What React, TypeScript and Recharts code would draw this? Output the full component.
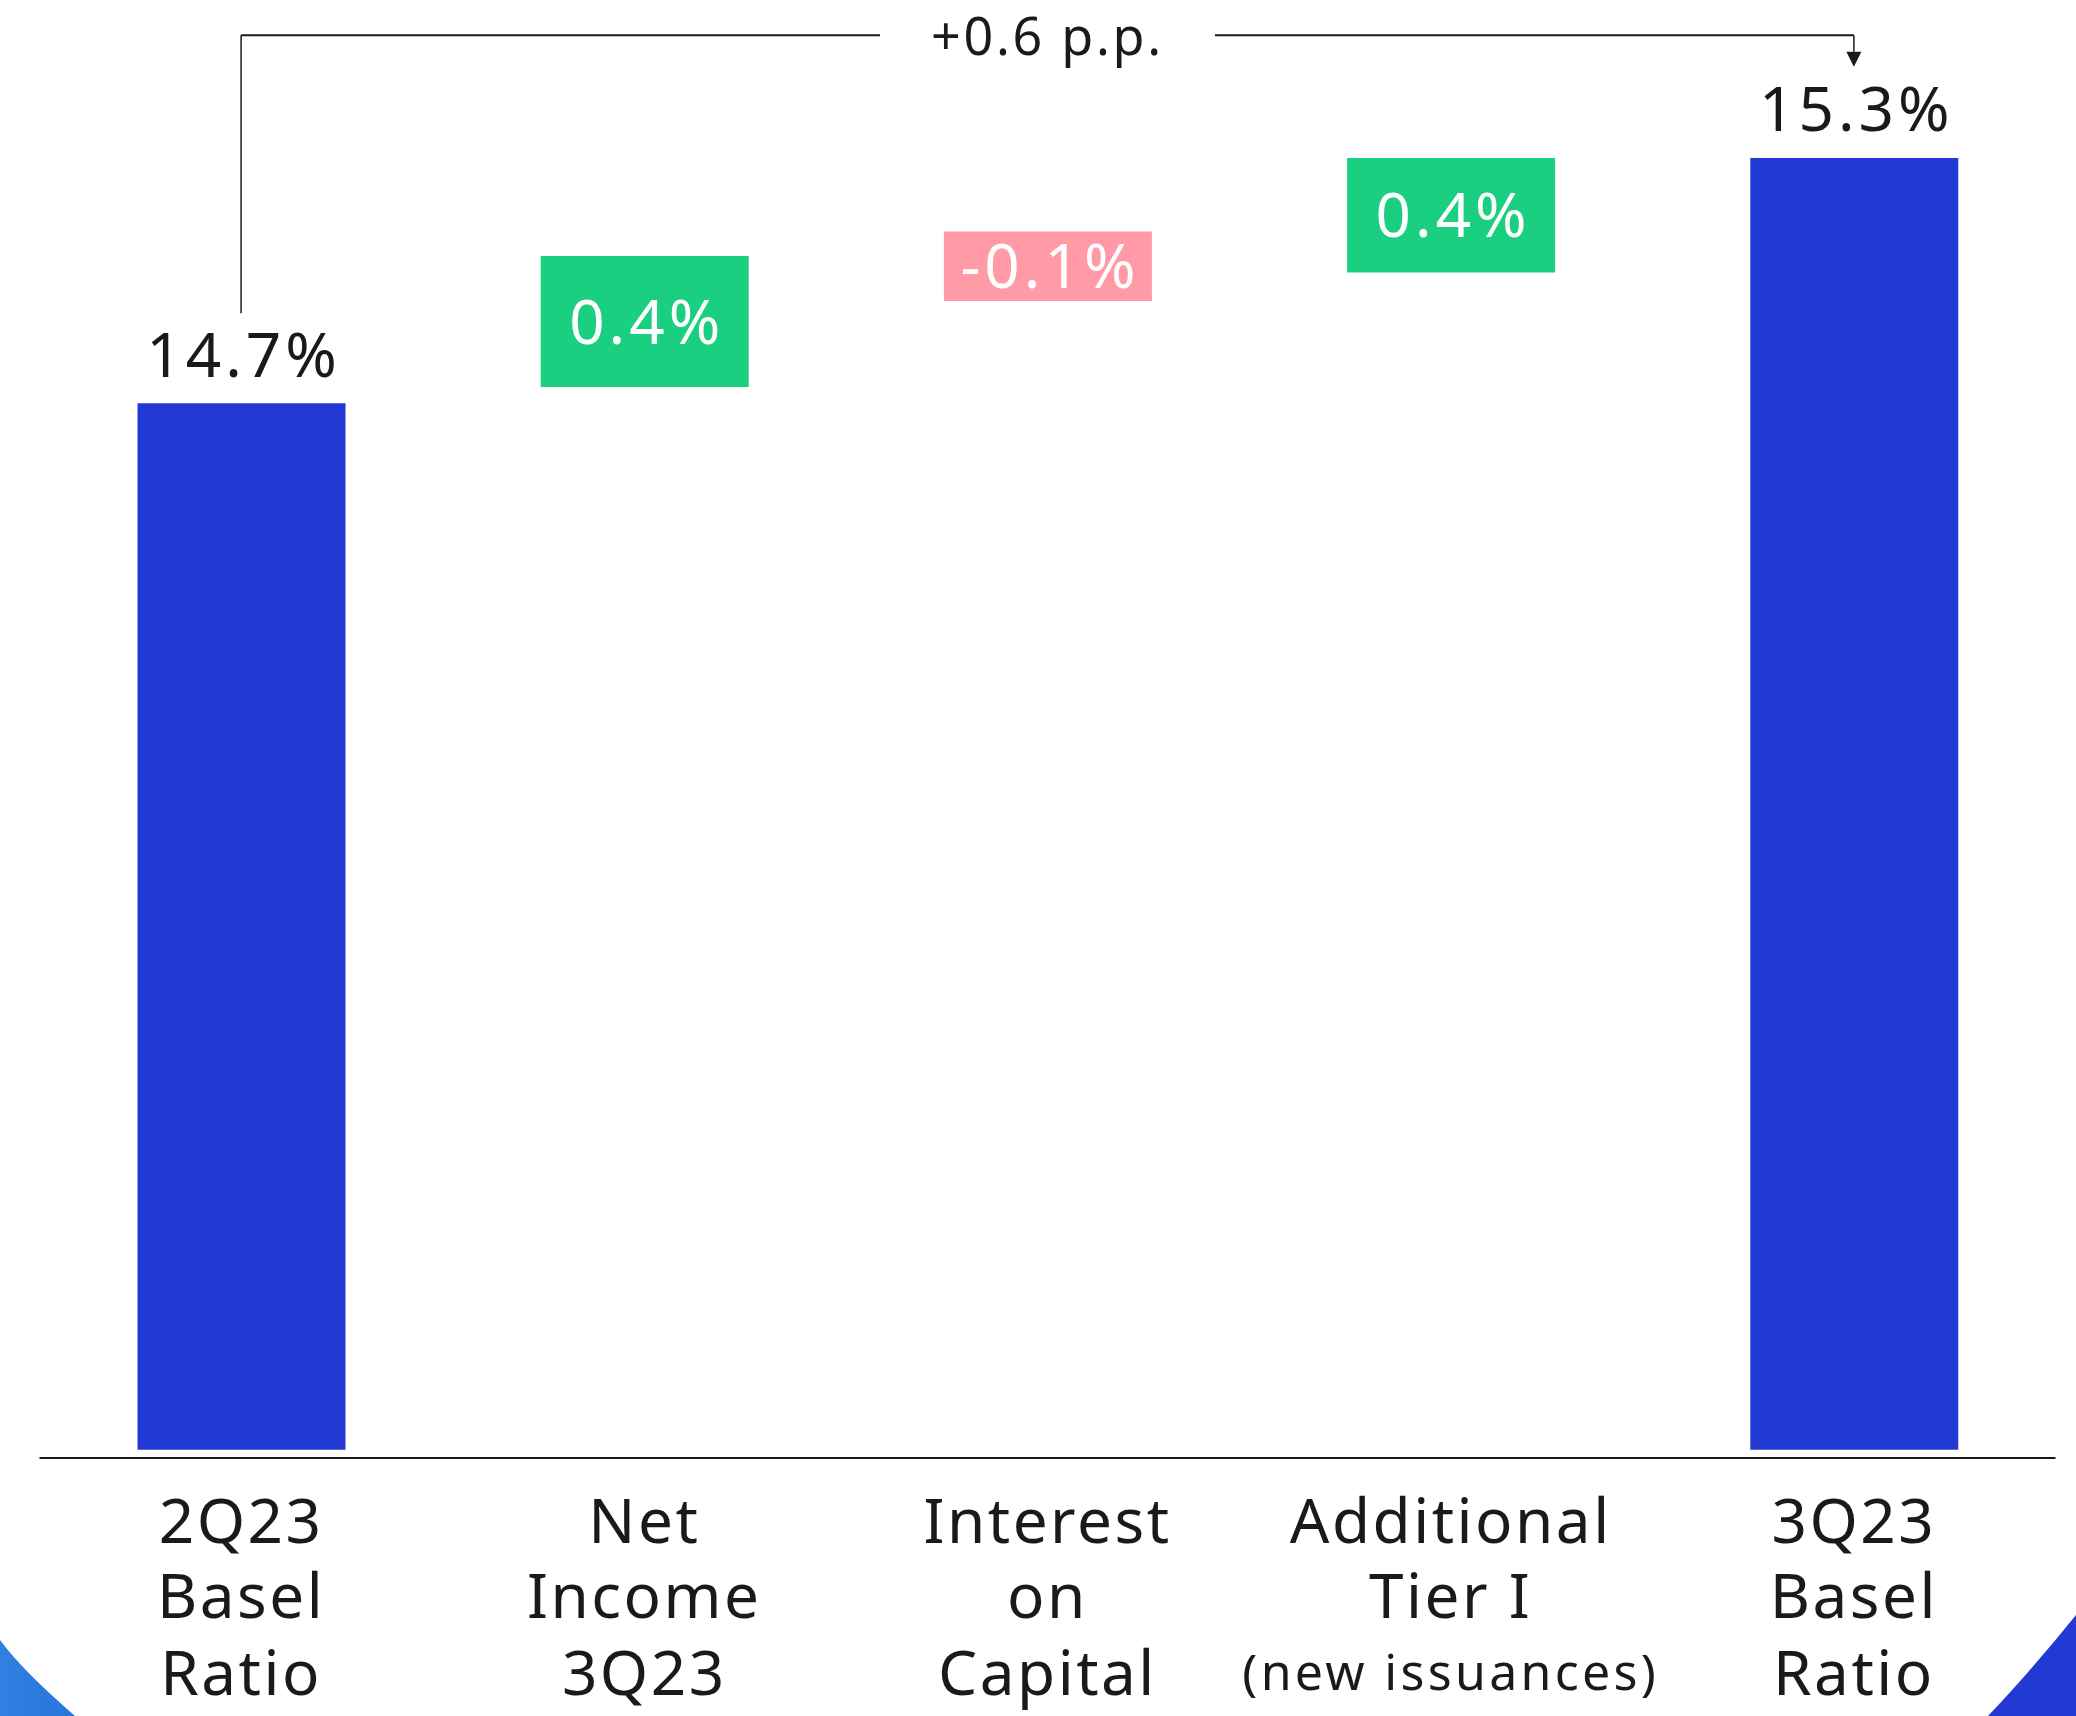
import React from 'react';
import { BarChart, Bar, XAxis, YAxis, Cell, LabelList, ReferenceLine, ReferenceDot } from 'recharts';

// ---- data ----
const categories = [
  '2Q23 Basel Ratio',
  'Net Income 3Q23',
  'Interest on Capital',
  'Additional Tier I (new issuances)',
  '3Q23 Basel Ratio',
];
const tickLines = [
  ['2Q23', 'Basel', 'Ratio'],
  ['Net', 'Income', '3Q23'],
  ['Interest', 'on', 'Capital'],
  ['Additional', 'Tier I', '(new issuances)'],
  ['3Q23', 'Basel', 'Ratio'],
];
const valueLabels = ['14.7%', '0.4%', '-0.1%', '0.4%', '15.3%'];
const kinds = ['total', 'increase', 'decrease', 'increase', 'total'];
// visual extents of each floating bar on the truncated (not-to-scale) ratio axis
const barLows = [12.14, 14.74, 14.95, 15.02, 12.14];
const barHighs = [14.7, 15.06, 15.12, 15.3, 15.3];
const changeLabel = '+0.6 p.p.';
const axisDomain = [12.12, 15.3];
const bracketLevel = 15.6;
const bracketLeftEnd = 14.92;
const arrowBase = 15.56;
const arrowTip = 15.523;

// ---- styles ----
const FONT = '"Noto Sans", "DejaVu Sans", sans-serif';
const TEXT = '#1a1a1a';
const COLORS: Record<string, string> = {
  total: '#2339D3',
  increase: '#1BCF80',
  decrease: '#FF9AA6',
};

const data = categories.map((name, i) => ({
  name,
  range: [barLows[i], barHighs[i]],
  label: valueLabels[i],
  kind: kinds[i],
}));

const renderValueLabel = (props: any) => {
  const vb = props.viewBox && props.viewBox.width !== undefined ? props.viewBox : props;
  const { x, y, width, height } = vb;
  const index = props.index ?? 0;
  const kind = kinds[index];
  const text = props.value ?? valueLabels[index];
  const cx = x + width / 2;
  if (kind === 'total') {
    return (
      <text x={cx + 2} y={y - 26.6} textAnchor="middle" fontSize={62} fontFamily={FONT}
        letterSpacing={4} fill={TEXT}>
        {text}
      </text>
    );
  }
  return (
    <text x={cx + 2} y={y + height / 2 + 22} textAnchor="middle" fontSize={62} fontFamily={FONT}
      letterSpacing={4} fill="#ffffff">
      {text}
    </text>
  );
};

const MultiLineTick = (props: any) => {
  const { x, y, payload } = props;
  const idx = categories.indexOf(payload?.value);
  const lines = tickLines[idx] || [];
  const offsets = [85, 160, 237];
  return (
    <g>
      {lines.map((line, i) => {
        const small = line.startsWith('(');
        return (
          <text key={i} x={x} y={y + offsets[i] - (small ? 5 : 0)} textAnchor="middle"
            fontSize={small ? 50 : 62} fontFamily={FONT} letterSpacing={small ? 3.3 : 2.5} fill={TEXT}>
            {line}
          </text>
        );
      })}
    </g>
  );
};

const BracketLabel = (props: any) => {
  const vb = props.viewBox || {};
  const cx = vb.x + vb.width / 2;
  const cy = vb.y;
  return (
    <g>
      <rect x={cx - 167.5} y={cy - 20} width={335} height={40} fill="#ffffff" />
      <text x={cx} y={cy + 20} textAnchor="middle" fontSize={52} fontFamily={FONT}
        letterSpacing={2.7} fill={TEXT}>
        {changeLabel}
      </text>
    </g>
  );
};

const ArrowHead = (props: any) => {
  const { cx, cy } = props;
  return <path d={`M${cx - 7.5},${cy - 15} L${cx + 7.5},${cy - 15} L${cx},${cy} Z`} fill={TEXT} />;
};

export default function App() {
  return (
    <div style={{ position: 'absolute', left: 0, top: 0, width: 2076, height: 1716, background: '#ffffff', overflow: 'hidden' }}>
      <svg width={2076} height={1716} style={{ position: 'absolute', left: 0, top: 0 }}>
        <defs>
          <linearGradient id="leftBlob" x1="0" y1="0" x2="1" y2="0">
            <stop offset="0%" stopColor="#2F80E0" />
            <stop offset="100%" stopColor="#2A74DC" />
          </linearGradient>
        </defs>
        <path d="M0,1640 Q22,1670 75,1716 L0,1716 Z" fill="url(#leftBlob)" />
        <path d="M2076,1615 Q2030,1672 1988,1716 L2076,1716 Z" fill="#2339D3" />
      </svg>
      <div style={{ position: 'absolute', left: 0, top: 0 }}>
        <BarChart width={2076} height={1716} data={data}
          margin={{ top: 158, right: 20.5, bottom: 0, left: 39.5 }}>
          <XAxis dataKey="name" interval={0} height={258} tickLine={false} tickSize={0} tickMargin={0}
            axisLine={{ stroke: TEXT, strokeWidth: 2 }} tick={<MultiLineTick />} />
          <YAxis hide type="number" domain={axisDomain} allowDataOverflow />
          <Bar dataKey="range" barSize={208} isAnimationActive={false}>
            {data.map((d, i) => (
              <Cell key={i} fill={COLORS[d.kind]} />
            ))}
            <LabelList dataKey="label" content={renderValueLabel} />
          </Bar>
          <ReferenceLine ifOverflow="visible" stroke={TEXT} strokeWidth={1.5}
            segment={[{ x: categories[0], y: bracketLevel }, { x: categories[0], y: bracketLeftEnd }]} />
          <ReferenceLine ifOverflow="visible" stroke={TEXT} strokeWidth={1.5}
            segment={[{ x: categories[4], y: bracketLevel }, { x: categories[4], y: arrowBase }]} />
          <ReferenceLine ifOverflow="visible" stroke={TEXT} strokeWidth={2}
            segment={[{ x: categories[0], y: bracketLevel }, { x: categories[4], y: bracketLevel }]}
            label={<BracketLabel />} />
          <ReferenceDot ifOverflow="visible" x={categories[4]} y={arrowTip} r={8}
            shape={<ArrowHead />} />
        </BarChart>
      </div>
    </div>
  );
}
